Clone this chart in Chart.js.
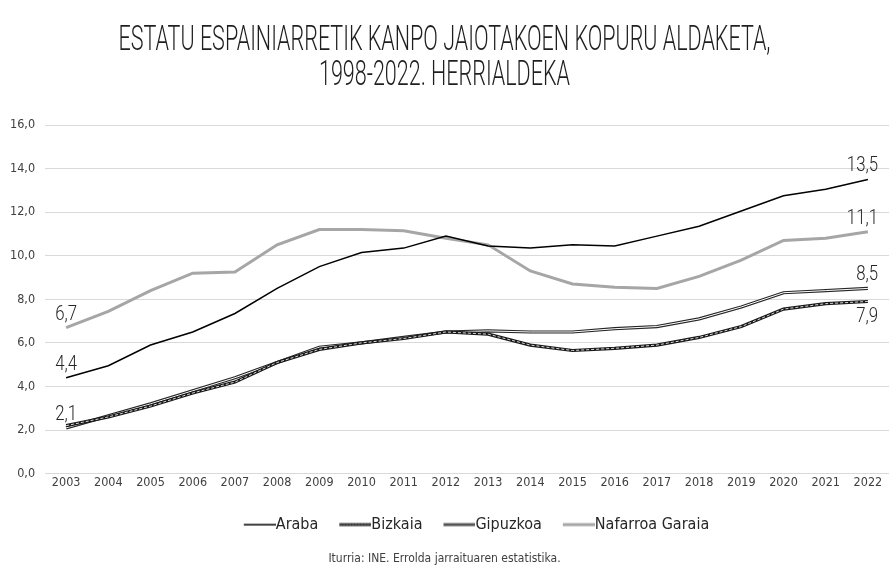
<!DOCTYPE html>
<html>
<head>
<meta charset="utf-8">
<script src="https://cdn.jsdelivr.net/npm/chart.js@4.4.1/dist/chart.umd.min.js"></script>
<style>
  html, body { margin: 0; padding: 0; background: #fff; }
  #wrap { width: 889px; height: 566px; position: relative; }
</style>
</head>
<body>
<div id="wrap"><canvas id="chart"></canvas></div>
<script>
const FONT = '"DejaVu Sans Condensed", "Liberation Sans Narrow", Roboto, sans-serif';
const LIGHT = 'Roboto, "DejaVu Sans", sans-serif';

const titleLines = ['ESTATU ESPAINIARRETIK KANPO JAIOTAKOEN KOPURU ALDAKETA,', '1998-2022. HERRIALDEKA'];
const sourceText = 'Iturria: INE. Errolda jarraituaren estatistika.';

const years = ['2003', '2004', '2005', '2006', '2007', '2008', '2009', '2010', '2011', '2012',
               '2013', '2014', '2015', '2016', '2017', '2018', '2019', '2020', '2021', '2022'];

const araba     = [4.4, 4.95, 5.9, 6.5, 7.35, 8.5, 9.5, 10.15, 10.35, 10.9,
                   10.45, 10.35, 10.5, 10.45, 10.9, 11.35, 12.05, 12.75, 13.05, 13.5];
const bizkaia   = [2.2, 2.6, 3.1, 3.7, 4.2, 5.1, 5.7, 6.0, 6.2, 6.5,
                   6.4, 5.9, 5.65, 5.75, 5.9, 6.25, 6.75, 7.55, 7.8, 7.9];
const gipuzkoa  = [2.1, 2.65, 3.2, 3.8, 4.4, 5.1, 5.8, 6.0, 6.25, 6.5,
                   6.55, 6.5, 6.5, 6.65, 6.75, 7.1, 7.65, 8.3, 8.4, 8.5];
const nafarroa  = [6.7, 7.45, 8.4, 9.2, 9.25, 10.5, 11.2, 11.2, 11.15, 10.8,
                   10.5, 9.3, 8.7, 8.55, 8.5, 9.05, 9.8, 10.7, 10.8, 11.1];

const seriesNames = ['Araba', 'Bizkaia', 'Gipuzkoa', 'Nafarroa Garaia'];

// legend samples: line drawn on the right part of the image so it meets the text
function sample(draw) {
  const c = document.createElement('canvas');
  c.width = 46; c.height = 8;
  draw(c.getContext('2d'));
  return c;
}
const samples = [
  sample(g => { g.fillStyle = '#000'; g.fillRect(14, 3.3, 32, 1.5); }),
  sample(g => {
    g.fillStyle = '#2a2a2a'; g.fillRect(14, 2.5, 32, 3);
    g.fillStyle = '#a0a0a0';
    for (let x = 15; x < 46; x += 3) g.fillRect(x, 3.6, 1.5, 0.8);
  }),
  sample(g => { g.fillStyle = '#555'; g.fillRect(14, 2.5, 32, 3); }),
  sample(g => { g.fillStyle = '#a6a6a6'; g.fillRect(14, 2.5, 32, 3); })
];

const fmt = v => v.toFixed(1).replace('.', ',');

function condensedText(ctx, txt, x, y, sx) {
  ctx.save();
  ctx.translate(x, y);
  ctx.scale(sx, 1);
  ctx.fillText(txt, 0, 0);
  ctx.restore();
}

// title drawn in a light, horizontally condensed face
const titlePlugin = {
  id: 'condensedTitle',
  afterDraw(chart) {
    const ctx = chart.ctx;
    ctx.save();
    ctx.font = '300 35px ' + LIGHT;
    ctx.fillStyle = '#1f1f1f';
    ctx.textAlign = 'center';
    ctx.textBaseline = 'middle';
    const sx = 652 / ctx.measureText(titleLines[0]).width;
    condensedText(ctx, titleLines[0], chart.width / 2, 41, sx);
    condensedText(ctx, titleLines[1], chart.width / 2, 76, sx);
    ctx.restore();
  }
};

// the legend in the original sits a bit right of centre
const legendShift = {
  id: 'legendShift',
  afterLayout(chart) {
    chart.legend.left += 29;
    chart.legend.right += 29;
  }
};

// value labels at the start / end of the lines
const endLabels = {
  id: 'endLabels',
  afterDatasetsDraw(chart) {
    const ctx = chart.ctx;
    const last = years.length - 1;
    const spec = [
      { ds: 0, idx: 0, pos: 'above' },
      { ds: 5, idx: 0, pos: 'above' },
      { ds: 3, idx: 0, pos: 'above' },
      { ds: 0, idx: last, pos: 'above' },
      { ds: 5, idx: last, pos: 'above' },
      { ds: 3, idx: last, pos: 'above' },
      { ds: 1, idx: last, pos: 'below' }
    ];
    ctx.save();
    ctx.font = '300 21px ' + LIGHT;
    ctx.fillStyle = '#262626';
    ctx.textAlign = 'center';
    const sx = 0.8;
    spec.forEach(s => {
      const pt = chart.getDatasetMeta(s.ds).data[s.idx];
      const txt = fmt(chart.data.datasets[s.ds].data[s.idx]);
      const w = ctx.measureText(txt).width * sx;
      const x = Math.min(pt.x, chart.width - 11 - w / 2);
      if (s.pos === 'above') {
        ctx.textBaseline = 'alphabetic';
        condensedText(ctx, txt, x, pt.y - 8, sx);
      } else {
        ctx.textBaseline = 'top';
        condensedText(ctx, txt, x, pt.y + 5, sx);
      }
    });
    ctx.restore();
  }
};

const base = { pointRadius: 0, pointHoverRadius: 0, tension: 0, fill: false };

new Chart(document.getElementById('chart'), {
  type: 'line',
  data: {
    labels: years,
    datasets: [
      { ...base, label: seriesNames[0], data: araba, borderColor: '#000', borderWidth: 1.5, order: 1 },
      { ...base, label: seriesNames[1], data: bizkaia, borderColor: '#1a1a1a', borderWidth: 3.2, order: 4 },
      { ...base, label: 'Bizkaia inner', data: bizkaia, borderColor: '#d8d8d8', borderWidth: 1, borderDash: [3, 2], order: 3 },
      { ...base, label: seriesNames[2], data: gipuzkoa, borderColor: '#262626', borderWidth: 3.2, order: 6 },
      { ...base, label: 'Gipuzkoa inner', data: gipuzkoa, borderColor: '#ffffff', borderWidth: 1, order: 5 },
      { ...base, label: seriesNames[3], data: nafarroa, borderColor: '#a6a6a6', borderWidth: 3, order: 2 }
    ]
  },
  options: {
    responsive: true,
    maintainAspectRatio: false,
    animation: false,
    layout: { padding: { left: 0, right: 0, top: 125, bottom: 0 } },
    plugins: {
      title: { display: false },
      subtitle: {
        display: true,
        position: 'bottom',
        text: sourceText,
        color: '#404040',
        font: { family: FONT, size: 12 },
        padding: { top: 9, bottom: 0 }
      },
      legend: {
        position: 'bottom',
        labels: {
          usePointStyle: true,
          pointStyleWidth: 30,
          boxHeight: 8,
          padding: 15,
          color: '#262626',
          font: { family: FONT, size: 16 },
          generateLabels: chart => seriesNames.map((name, i) => ({
            text: name,
            datasetIndex: chart.data.datasets.findIndex(d => d.label === name),
            pointStyle: samples[i],
            fontColor: '#262626',
            lineWidth: 0,
            strokeStyle: 'transparent',
            fillStyle: 'transparent',
            hidden: false
          }))
        }
      },
      tooltip: { enabled: false }
    },
    scales: {
      x: {
        offset: true,
        grid: { display: false, drawTicks: false },
        border: { display: true, color: '#d9d9d9' },
        ticks: { color: '#404040', font: { family: FONT, size: 12.5 }, padding: 2, maxRotation: 0, autoSkip: false },
        afterFit: scale => { scale.height += 9; }
      },
      y: {
        min: 0,
        max: 16,
        ticks: { stepSize: 2, color: '#404040', font: { family: FONT, size: 12.5 }, padding: 10, callback: v => fmt(v) },
        grid: { color: '#d9d9d9', lineWidth: 1, drawTicks: false },
        border: { display: false }
      }
    }
  },
  plugins: [titlePlugin, legendShift, endLabels]
});
</script>
</body>
</html>
